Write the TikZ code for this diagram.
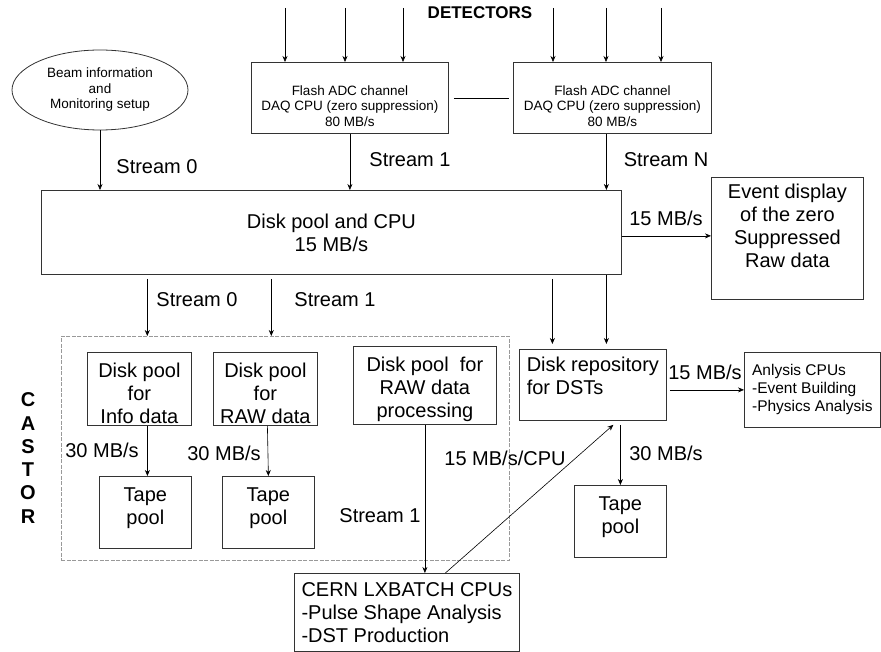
\documentclass[tikz,border=0pt]{standalone}
\usepackage{fontspec}
\setmainfont{Liberation Sans}
\usetikzlibrary{arrows.meta,shapes.geometric}
\newcommand{\bigtxt}{\fontsize{20}{23}\selectfont}
\newcommand{\smalltxt}{\fontsize{13.5}{15.5}\selectfont}
\newcommand{\midtxt}{\fontsize{15.5}{18}\selectfont}

\begin{document}
\begin{tikzpicture}[x=1pt, y=-1pt,
    box/.style={draw=black!80, line width=0.8pt, anchor=north west, inner sep=2pt, align=center, font=\bigtxt},
    tapebox/.style={box, minimum width=92pt, minimum height=72pt, text depth=12pt},
    arr/.style={-{Stealth[length=6pt,width=5pt]}, line width=0.6pt},
    lbl/.style={font=\bigtxt, inner sep=0pt}
]
    \useasboundingbox (0,0) rectangle (881,652);

    % Detectors and front-end
    \node[font=\fontsize{17}{20}\selectfont\bfseries] (det) at (480,13) {DETECTORS};
    \node[box, font=\smalltxt, minimum width=197pt, minimum height=71pt, text height=57pt] (fadcA) at (251,62) {Flash ADC channel\\DAQ CPU (zero suppression)\\80 MB/s};
    \node[box, font=\smalltxt, minimum width=198pt, minimum height=71pt, text height=57pt] (fadcB) at (513,62) {Flash ADC channel\\DAQ CPU (zero suppression)\\80 MB/s};
    \foreach \x [count=\i] in {285,345,403} {
        \coordinate (inA\i) at (\x,8);
        \draw[arr] (inA\i) -- (inA\i |- fadcA.north);
    }
    \foreach \x [count=\i] in {553,606,661} {
        \coordinate (inB\i) at (\x,8);
        \draw[arr] (inB\i) -- (inB\i |- fadcB.north);
    }
    \draw[line width=0.6pt] ([xshift=5pt]fadcA.east) -- ([xshift=-4pt]fadcB.west);

    \node[ellipse, draw=black!80, line width=0.8pt, minimum width=176pt, minimum height=80pt, inner sep=0pt, align=center, font=\smalltxt] (beam) at (100,90) {Beam information\\and\\Monitoring setup};

    % Disk pool and CPU
    \node[box, minimum width=580pt, minimum height=84pt] (disk) at (41,190) {Disk pool and CPU\\15 MB/s};
    \node[box, minimum width=152pt, minimum height=122pt, text depth=26pt] (event) at (711,177) {Event display\\of the zero\\Suppressed\\Raw data};

    \draw[arr] (beam.south) -- (beam.south |- disk.north);
    \draw[arr] (fadcA.south) -- (fadcA.south |- disk.north);
    \draw[arr] ([xshift=-6pt]fadcB.south) -- ([xshift=-6pt]fadcB.south |- disk.north);
    \draw[arr] ([yshift=-3.5pt]disk.east) coordinate (dx) -- (dx -| event.west);
    \node[lbl] (s0a) at (157,167) {Stream 0};
    \node[lbl] (s1a) at (410,160) {Stream 1};
    \node[lbl] (sna) at (666,160) {Stream N};
    \node[lbl] (r15a) at (666,218) {15 MB/s};

    % CASTOR
    \node[draw=gray!80, dash pattern=on 4pt off 1.5pt, line width=0.6pt, anchor=north west, minimum width=448pt, minimum height=224pt] (castor) at (61,336) {};
    \node[font=\fontsize{20}{23.3}\selectfont\bfseries, align=center, inner sep=0pt] (castorname) at (28,458) {C\\A\\S\\T\\O\\R};
    \node[box, minimum width=104pt, minimum height=72pt, text height=69pt] (info) at (87,352) {Disk pool\\for\\Info data};
    \node[box, minimum width=104pt, minimum height=72pt, text height=69pt] (raw) at (213,352) {Disk pool\\for\\RAW data};
    \node[box, minimum width=143pt, minimum height=78pt, text height=69pt] (proc) at (353,346) {Disk pool~~for\\RAW data\\processing};
    \node[tapebox] (tapeA) at (99,476) {Tape\\pool};
    \node[tapebox] (tapeB) at (222,476) {Tape\\pool};

    \draw[arr] ([xshift=-138pt,yshift=-4pt]castor.north |- disk.south) -- ([xshift=-138pt]castor.north);
    \draw[arr] ([xshift=-14pt,yshift=-4pt]castor.north |- disk.south) -- ([xshift=-14pt]castor.north);
    \node[lbl] (s0b) at (197,300) {Stream 0};
    \node[lbl] (s1b) at (335,300) {Stream 1};
    \draw[arr] ([xshift=8pt]info.south) -- ([xshift=2pt]tapeA.north);
    \draw[arr] ([xshift=2pt]raw.south) -- (tapeB.north);
    \node[lbl] (r30a) at (102,450) {30 MB/s};
    \node[lbl] (r30b) at (224,453) {30 MB/s};

    % Batch and DST
    \node[box, align=left, minimum width=225pt, minimum height=78pt] (cern) at (294,573) {CERN LXBATCH CPUs\\-Pulse Shape Analysis\\-DST Production};
    \node[box, align=left, minimum width=147pt, minimum height=71pt, text depth=18pt] (repo) at (519,349) {Disk repository\\for DSTs};
    \node[box, align=left, font=\midtxt, minimum width=136pt, minimum height=75pt] (ana) at (744,352) {Anlysis CPUs\\-Event Building\\-Physics Analysis};
    \node[tapebox] (tapeC) at (574,485) {Tape\\pool};

    \draw[arr] (proc.south) -- (proc.south |- cern.north);
    \draw[arr] ([xshift=38.5pt]cern.north) -- ([xshift=20.5pt,yshift=-4pt]repo.south);
    \draw[arr] ([xshift=-40.5pt,yshift=-4pt]repo.north |- disk.south) -- ([xshift=-40.5pt,yshift=5pt]repo.north);
    \draw[arr] ([xshift=13.5pt]repo.north |- disk.south) -- ([xshift=13.5pt,yshift=5pt]repo.north);
    \draw[arr] ([xshift=3pt]repo.east |- ana.west) -- (ana.west);
    \draw[arr] ([xshift=27.5pt,yshift=-4pt]repo.south) -- (tapeC.north);
    \node[lbl] (s1c) at (380,516) {Stream 1};
    \node[lbl] (r15c) at (505,458) {15 MB/s/CPU};
    \node[lbl] (r15b) at (705,372) {15 MB/s};
    \node[lbl] (r30c) at (666,453) {30 MB/s};
\end{tikzpicture}
\end{document}
